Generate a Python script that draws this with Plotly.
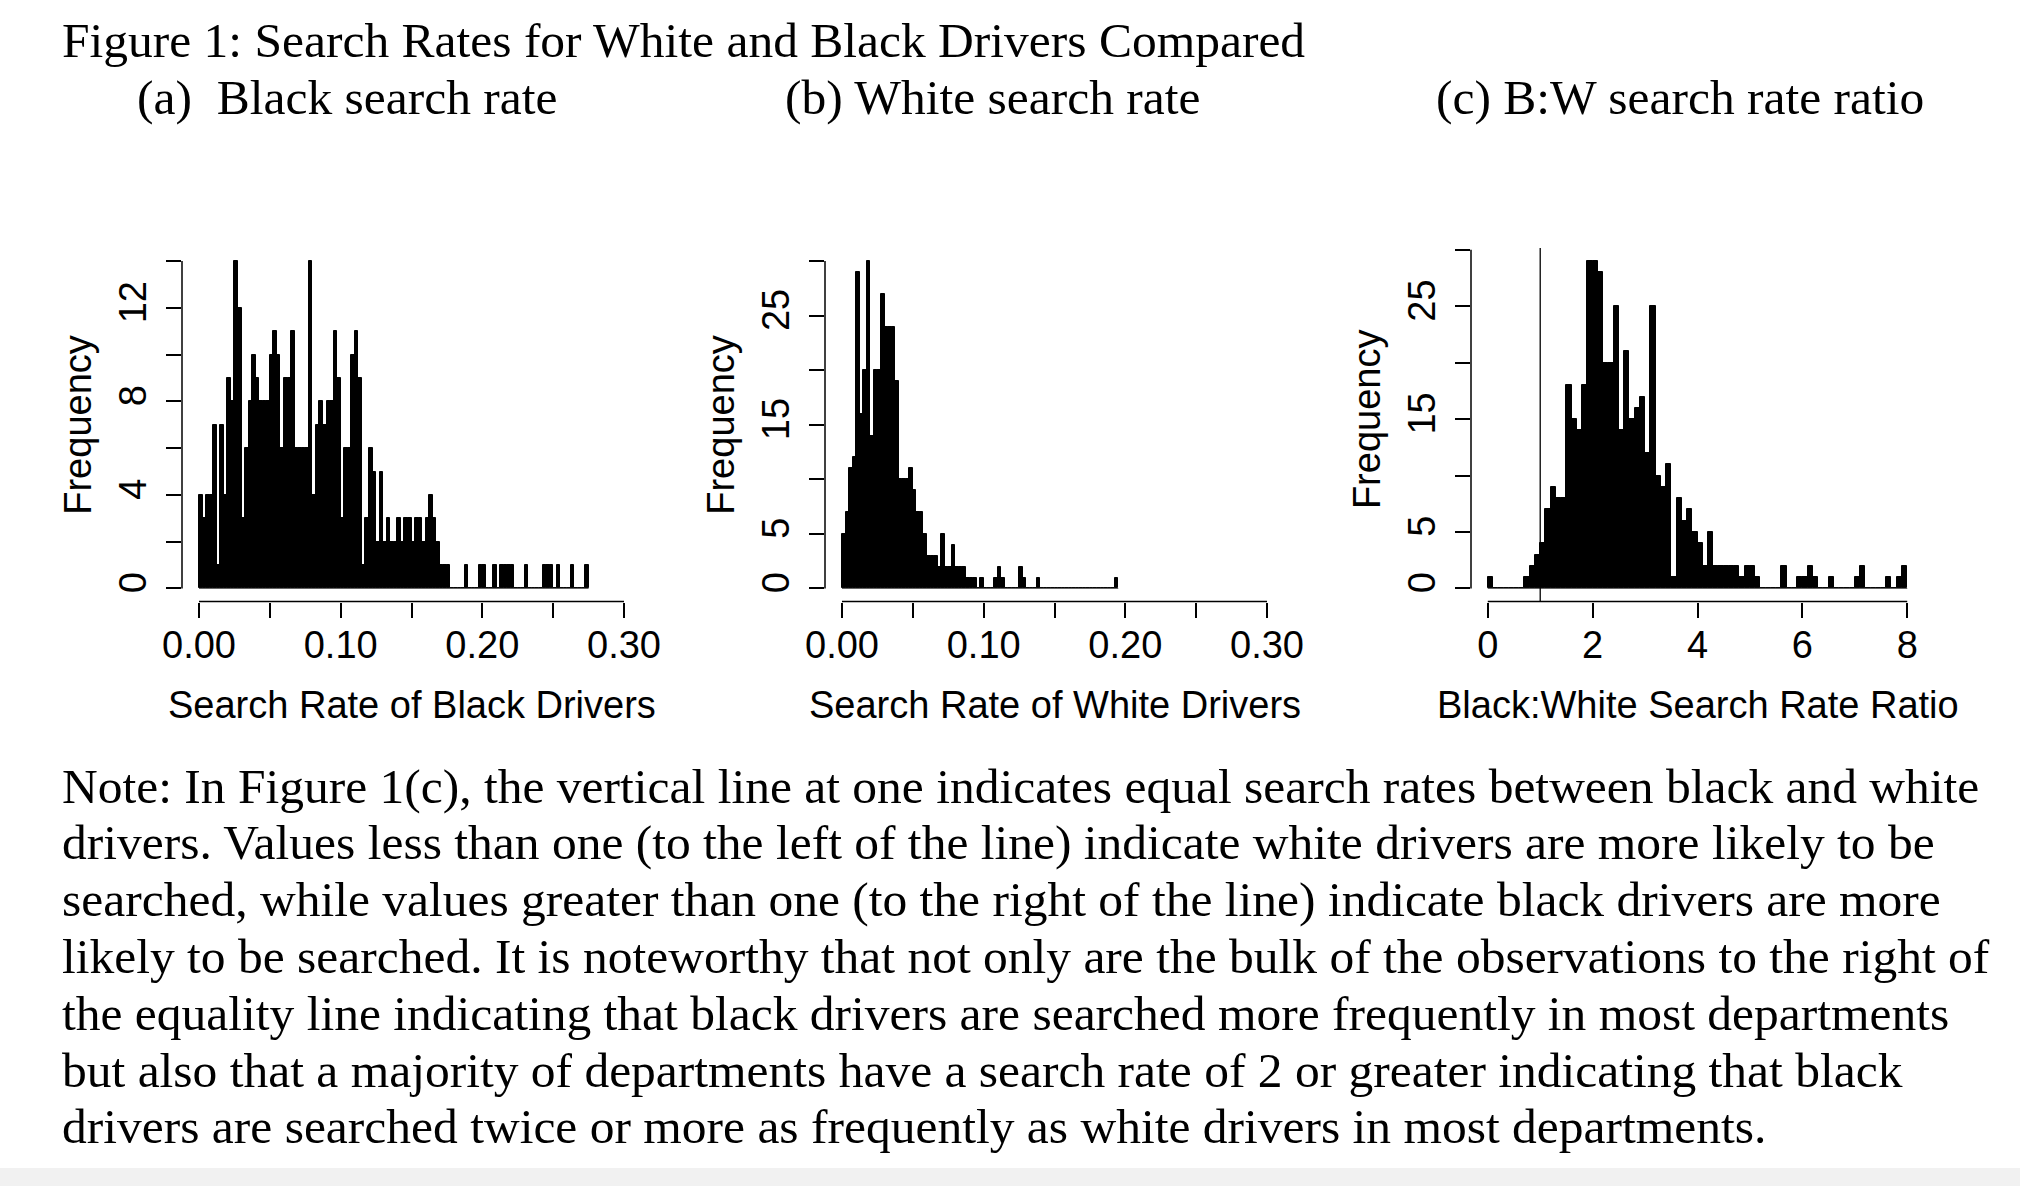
import plotly.graph_objects as go

# ---- data (counts per bin) ----
black_bin_width = 0.0025   # bins start at 0
black_counts = [4, 3, 4, 4, 7, 1, 7, 4, 9, 8, 14, 12, 3, 6, 8, 10, 9, 8, 8, 8,
                10, 11, 10, 6, 9, 9, 11, 6, 6, 6, 6, 14, 4, 7, 8, 7, 8, 8, 11, 9,
                3, 6, 6, 10, 11, 9, 1, 3, 6, 5, 2, 5, 2, 3, 2, 2, 3, 2, 3, 3,
                2, 3, 3, 2, 3, 4, 3, 2, 1, 1, 1, 0, 0, 0, 0, 1, 0, 0, 0, 1,
                1, 0, 0, 1, 0, 1, 1, 1, 1, 0, 0, 0, 1, 0, 0, 0, 0, 1, 1, 1,
                0, 1, 0, 0, 0, 1, 0, 0, 0, 1]

white_bin_width = 0.0025
white_counts = [5, 7, 11, 12, 29, 16, 20, 30, 14, 20, 20, 27, 24, 24, 24, 19, 10, 10, 10, 11,
                9, 7, 7, 5, 3, 3, 3, 2, 5, 2, 2, 4, 2, 2, 2, 1, 1, 1, 0, 1,
                0, 0, 0, 1, 2, 1, 0, 0, 0, 0, 2, 1, 0, 0, 0, 1, 0, 0, 0, 0,
                0, 0, 0, 0, 0, 0, 0, 0, 0, 0, 0, 0, 0, 0, 0, 0, 0, 1]

ratio_bin_width = 0.1
ratio_counts = [1, 0, 0, 0, 0, 0, 0, 1, 2, 3, 4, 7, 9, 8, 8, 18, 15, 14, 18, 29,
                29, 28, 20, 20, 25, 14, 21, 15, 16, 17, 12, 25, 10, 9, 11, 1, 8, 6, 7, 5,
                4, 2, 5, 2, 2, 2, 2, 2, 1, 2, 2, 1, 0, 0, 0, 0, 2, 0, 0, 1,
                1, 2, 1, 0, 0, 1, 0, 0, 0, 0, 1, 2, 0, 0, 0, 0, 1, 0, 1, 2]

equality_ratio = 1  # vertical reference line in panel (c)

# axis ticks (R style: some ticks are left without a label)
rate_xlim = [0, 0.30]
rate_xticks = [0, 0.05, 0.10, 0.15, 0.20, 0.25, 0.30]
rate_xticktext = ["0.00", "", "0.10", "", "0.20", "", "0.30"]
ratio_xlim = [0, 8]
ratio_xticks = [0, 2, 4, 6, 8]
ratio_xticktext = ["0", "2", "4", "6", "8"]
black_yticks = [0, 2, 4, 6, 8, 10, 12, 14]
black_yticktext = ["0", "", "4", "", "8", "", "12", ""]
freq_yticks = [0, 5, 10, 15, 20, 25, 30]
freq_yticktext = ["0", "5", "", "15", "", "25", ""]

fig_title = "Figure 1: Search Rates for White and Black Drivers Compared"
panel_titles = ["(a)  Black search rate", "(b) White search rate", "(c) B:W search rate ratio"]
x_titles = ["Search Rate of Black Drivers", "Search Rate of White Drivers",
            "Black:White Search Rate Ratio"]
note_lines = [
    "Note: In Figure 1(c), the vertical line at one indicates equal search rates between black and white",
    "drivers. Values less than one (to the left of the line) indicate white drivers are more likely to be",
    "searched, while values greater than one (to the right of the line) indicate black drivers are more",
    "likely to be searched. It is noteworthy that not only are the bulk of the observations to the right of",
    "the equality line indicating that black drivers are searched more frequently in most departments",
    "but also that a majority of departments have a search rate of 2 or greater indicating that black",
    "drivers are searched twice or more as frequently as white drivers in most departments.",
]

W, H = 2020, 1186
SERIF = "Liberation Serif, Times New Roman, serif"
SANS = "Liberation Sans, Arial, Helvetica, sans-serif"
SERIF_SIZE = 49.5
SANS_SIZE = 38


def pad(lo, hi):
    # R extends the axis range by 4% on each side
    d = (hi - lo) * 0.04
    return [lo - d, hi + d]


fig = go.Figure()

panels = [
    # counts, bin width, xlim, xticks, xticktext, yticks, yticktext, x domain (px)
    (black_counts, black_bin_width, rate_xlim, rate_xticks, rate_xticktext,
     black_yticks, black_yticktext, (182, 641)),
    (white_counts, white_bin_width, rate_xlim, rate_xticks, rate_xticktext,
     freq_yticks, freq_yticktext, (825, 1284)),
    (ratio_counts, ratio_bin_width, ratio_xlim, ratio_xticks, ratio_xticktext,
     freq_yticks, freq_yticktext, (1471, 1924)),
]

y_dom = [1 - 601.5 / H, 1 - 248 / H]
annotations = []
shapes = []

for i, (counts, bw, xlim, xt, xtt, yt, ytt, xdom) in enumerate(panels):
    n = i + 1
    xa = "x" if n == 1 else f"x{n}"
    ya = "y" if n == 1 else f"y{n}"
    centers = [bw * (k + 0.5) for k in range(len(counts))]
    # empty bins show as a thin line on the baseline in R
    fig.add_trace(go.Scatter(
        x=[0, bw * len(counts)], y=[0, 0], mode="lines",
        line=dict(color="#555555", width=1),
        xaxis=xa, yaxis=ya, showlegend=False, hoverinfo="skip",
    ))
    fig.add_trace(go.Bar(
        x=centers, y=counts, width=bw,
        marker=dict(color="black", line=dict(color="black", width=1)),
        xaxis=xa, yaxis=ya, showlegend=False, hoverinfo="skip",
    ))
    xkey = "xaxis" if n == 1 else f"xaxis{n}"
    ykey = "yaxis" if n == 1 else f"yaxis{n}"
    fig.layout[xkey] = dict(
        domain=[xdom[0] / W, xdom[1] / W], anchor=ya, range=pad(*xlim),
        automargin=False, showgrid=False, zeroline=False, showline=False,
        tickmode="array", tickvals=xt, ticktext=xtt,
        ticks="outside", ticklen=15, tickwidth=1.5, tickcolor="black",
        tickfont=dict(family=SANS, size=SANS_SIZE, color="black"),
        ticklabelstandoff=-5,
    )
    fig.layout[ykey] = dict(
        domain=y_dom, anchor=xa, range=pad(0, max(counts)),
        automargin=False, showgrid=False, zeroline=False, showline=False,
        tickmode="array", tickvals=yt, ticktext=ytt, tickangle=-90,
        ticks="outside", ticklen=15, tickwidth=1.5, tickcolor="black",
        tickfont=dict(family=SANS, size=SANS_SIZE, color="black"),
        ticklabelstandoff=5,
    )
    # axis lines only between the first and last tick, like R
    shapes.append(dict(type="line", xref=xa, yref=f"{ya} domain",
                       x0=xt[0], x1=xt[-1], y0=0, y1=0,
                       line=dict(color="black", width=1.5)))
    shapes.append(dict(type="line", xref=f"{xa} domain", yref=ya,
                       x0=0, x1=0, y0=yt[0], y1=yt[-1],
                       line=dict(color="black", width=1.5)))
    # axis titles
    annotations.append(dict(text=x_titles[i], xref=xa, yref=f"{ya} domain",
                            x=(xt[0] + xt[-1]) / 2, y=0, yshift=-103,
                            xanchor="center", yanchor="middle", showarrow=False,
                            font=dict(family=SANS, size=SANS_SIZE, color="black")))
    annotations.append(dict(text="Frequency", xref=f"{xa} domain", yref=ya,
                            x=0, xshift=-104, y=(yt[0] + yt[-1]) / 2,
                            textangle=-90, xanchor="center", yanchor="middle",
                            showarrow=False,
                            font=dict(family=SANS, size=SANS_SIZE, color="black")))

# vertical equality line in panel (c)
shapes.append(dict(type="line", xref="x3", yref="y3 domain",
                   x0=equality_ratio, x1=equality_ratio, y0=0, y1=1,
                   line=dict(color="black", width=1.3)))

# subtle grey band at the very bottom of the page
shapes.append(dict(type="rect", xref="paper", yref="paper", x0=0, x1=1,
                   y0=0, y1=18 / H, line=dict(width=0), fillcolor="#f1f1f1", layer="below"))

# headings
annotations.append(dict(text=fig_title, xref="paper", yref="paper",
                        x=60 / W, y=1 - 41 / H, xanchor="left", yanchor="middle",
                        showarrow=False, font=dict(family=SERIF, size=SERIF_SIZE, color="black")))
for left, t in zip([135, 783, 1434], panel_titles):
    annotations.append(dict(text=t, xref="paper", yref="paper",
                            x=left / W, y=1 - 98 / H, xanchor="left", yanchor="middle",
                            showarrow=False, font=dict(family=SERIF, size=SERIF_SIZE, color="black")))

# note below the figure
for j, line in enumerate(note_lines):
    annotations.append(dict(text=line, xref="paper", yref="paper",
                            x=60 / W, y=1 - (786 + 56.8 * j) / H,
                            xanchor="left", yanchor="middle", showarrow=False,
                            font=dict(family=SERIF, size=SERIF_SIZE, color="black")))

fig.update_layout(
    width=W, height=H, margin=dict(l=0, r=0, t=0, b=0),
    paper_bgcolor="white", plot_bgcolor="white",
    bargap=0, barmode="overlay",
    shapes=shapes, annotations=annotations,
)

# drop the browser's default body margin so the figure sits at the page corner
fig.write_html("out.html", config={"displayModeBar": False},
               post_script="document.body.style.margin = '0';")
